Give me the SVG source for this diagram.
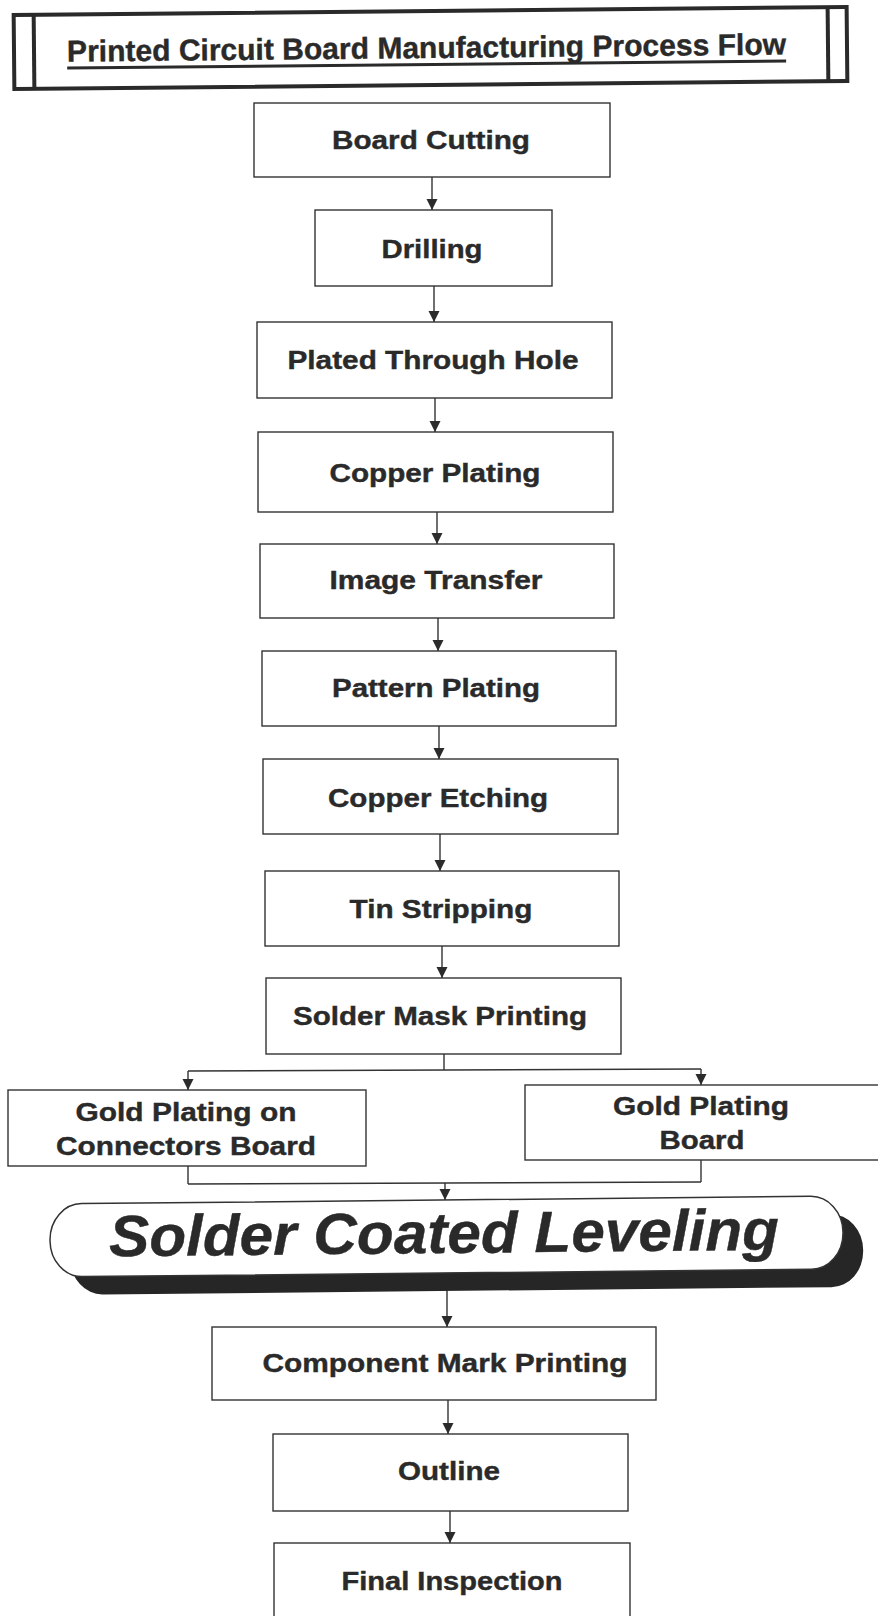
<svg xmlns="http://www.w3.org/2000/svg" width="878" height="1616" viewBox="0 0 878 1616">
<defs>
<marker id="ah" markerUnits="userSpaceOnUse" markerWidth="12" markerHeight="12" viewBox="0 0 12 12" refX="11" refY="6" orient="auto">
<path d="M0,0.5 L11,6 L0,11.5 Z" fill="#2b2b2b"/>
</marker>
<style>
.bx{fill:#fff;stroke:#333;stroke-width:1.4}
.t{font-family:"Liberation Sans",Arial,sans-serif;font-weight:bold;font-size:26px;fill:#2a2a2a;stroke:#2a2a2a;stroke-width:0.4;text-anchor:middle}
.c{fill:none;stroke:#333;stroke-width:1.4}
.ca{fill:none;stroke:#333;stroke-width:1.4;marker-end:url(#ah)}
</style>
</defs>
<rect width="878" height="1616" fill="#fff"/>

<g id="title" transform="rotate(-0.56 430 48)">
<rect x="14" y="11" width="833" height="74" fill="#fff" stroke="#2a2a2a" stroke-width="4"/>
<line x1="34" y1="11" x2="34" y2="85" stroke="#2a2a2a" stroke-width="4"/>
<line x1="828" y1="11" x2="828" y2="85" stroke="#2a2a2a" stroke-width="4"/>
<text x="426.5" y="58" class="t" style="font-size:30px" textLength="719" lengthAdjust="spacingAndGlyphs">Printed Circuit Board Manufacturing Process Flow</text>
<line x1="67" y1="64.5" x2="786" y2="64.5" stroke="#2a2a2a" stroke-width="3"/>
</g>

<g id="connectors">
<line class="ca" x1="432" y1="177" x2="432" y2="210"/>
<line class="ca" x1="434" y1="286" x2="434" y2="322"/>
<line class="ca" x1="435" y1="398" x2="435" y2="432"/>
<line class="ca" x1="437" y1="512" x2="437" y2="544"/>
<line class="ca" x1="438" y1="618" x2="438" y2="651"/>
<line class="ca" x1="439" y1="726" x2="439" y2="759"/>
<line class="ca" x1="440" y1="834" x2="440" y2="871"/>
<line class="ca" x1="442" y1="946" x2="442" y2="978"/>
<line class="c" x1="444" y1="1054" x2="444" y2="1070"/>
<line class="c" x1="188" y1="1071" x2="701" y2="1069"/>
<line class="ca" x1="188" y1="1071" x2="188" y2="1090"/>
<line class="ca" x1="701" y1="1069" x2="701" y2="1085"/>
<line class="c" x1="188" y1="1166" x2="188" y2="1184"/>
<line class="c" x1="701" y1="1160" x2="701" y2="1182"/>
<line class="c" x1="188" y1="1184" x2="701" y2="1182"/>
<line class="ca" x1="445" y1="1183" x2="445" y2="1200"/>
<line class="ca" x1="447" y1="1290" x2="447" y2="1327"/>
<line class="ca" x1="448" y1="1400" x2="448" y2="1434"/>
<line class="ca" x1="450" y1="1511" x2="450" y2="1543"/>
</g>

<g id="n1"><rect class="bx" x="254" y="103" width="356" height="74"/><text class="t" x="431" y="149" textLength="198" lengthAdjust="spacingAndGlyphs">Board Cutting</text></g>
<g id="n2"><rect class="bx" x="315" y="210" width="237" height="76"/><text class="t" x="432" y="258" textLength="101" lengthAdjust="spacingAndGlyphs">Drilling</text></g>
<g id="n3"><rect class="bx" x="257" y="322" width="355" height="76"/><text class="t" x="433" y="369" textLength="291" lengthAdjust="spacingAndGlyphs">Plated Through Hole</text></g>
<g id="n4"><rect class="bx" x="258" y="432" width="355" height="80"/><text class="t" x="435" y="482" textLength="211" lengthAdjust="spacingAndGlyphs">Copper Plating</text></g>
<g id="n5"><rect class="bx" x="260" y="544" width="354" height="74"/><text class="t" x="436" y="589" textLength="213" lengthAdjust="spacingAndGlyphs">Image Transfer</text></g>
<g id="n6"><rect class="bx" x="262" y="651" width="354" height="75"/><text class="t" x="436" y="697" textLength="208" lengthAdjust="spacingAndGlyphs">Pattern Plating</text></g>
<g id="n7"><rect class="bx" x="263" y="759" width="355" height="75"/><text class="t" x="438" y="807" textLength="220" lengthAdjust="spacingAndGlyphs">Copper Etching</text></g>
<g id="n8"><rect class="bx" x="265" y="871" width="354" height="75"/><text class="t" x="441" y="918" textLength="183" lengthAdjust="spacingAndGlyphs">Tin Stripping</text></g>
<g id="n9"><rect class="bx" x="266" y="978" width="355" height="76"/><text class="t" x="440" y="1025" textLength="294" lengthAdjust="spacingAndGlyphs">Solder Mask Printing</text></g>

<g id="n10"><rect class="bx" x="8" y="1090" width="358" height="76"/>
<text class="t" x="186" y="1121" textLength="221" lengthAdjust="spacingAndGlyphs">Gold Plating on</text>
<text class="t" x="186" y="1155" textLength="260" lengthAdjust="spacingAndGlyphs">Connectors Board</text></g>
<g id="n11"><rect class="bx" x="525" y="1085" width="360" height="75"/>
<text class="t" x="701" y="1115" textLength="176" lengthAdjust="spacingAndGlyphs">Gold Plating</text>
<text class="t" x="702" y="1149" textLength="85" lengthAdjust="spacingAndGlyphs">Board</text></g>

<g id="n12" transform="rotate(-0.57 446 1236)">
<rect x="70" y="1218" width="793" height="73" rx="32" ry="36" fill="#262626"/>
<rect x="50" y="1200" width="793" height="73" rx="32" ry="36" fill="#fff" stroke="#333" stroke-width="1.5"/>
<text class="t" x="444" y="1253" style="font-size:58px;font-style:italic" textLength="670" lengthAdjust="spacingAndGlyphs">Solder Coated Leveling</text>
</g>

<g id="n13"><rect class="bx" x="212" y="1327" width="444" height="73"/><text class="t" x="445" y="1372" textLength="365" lengthAdjust="spacingAndGlyphs">Component Mark Printing</text></g>
<g id="n14"><rect class="bx" x="273" y="1434" width="355" height="77"/><text class="t" x="449" y="1480" textLength="102" lengthAdjust="spacingAndGlyphs">Outline</text></g>
<g id="n15"><rect class="bx" x="274" y="1543" width="356" height="90"/><text class="t" x="452" y="1590" textLength="221" lengthAdjust="spacingAndGlyphs">Final Inspection</text></g>
</svg>
